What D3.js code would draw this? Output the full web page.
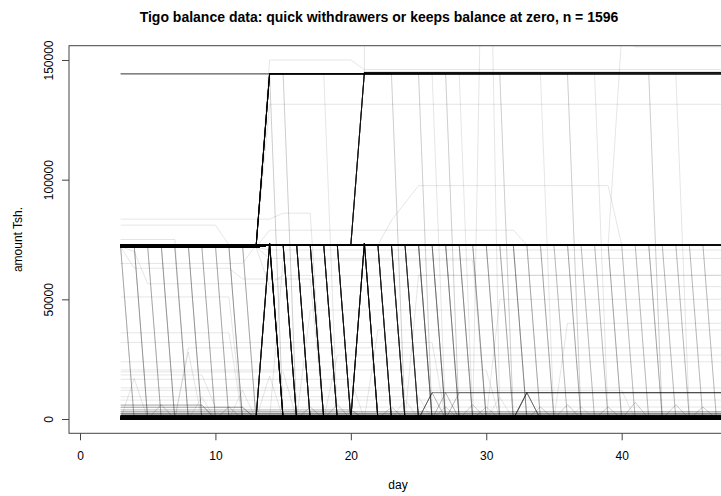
<!DOCTYPE html>
<html>
<head>
<meta charset="utf-8">
<script src="https://cdn.jsdelivr.net/npm/d3@7"></script>
<style>
  html, body { margin: 0; padding: 0; background: #fff; }
  svg text { font-family: "Liberation Sans", Arial, Helvetica, sans-serif; fill: #000; }
</style>
</head>
<body>
<svg id="chart" width="721" height="496"></svg>
<script>
// ---------------------------------------------------------------
// Data: daily Tigo balances (Tsh.) of customers, day 3 to day 48.
// Every trajectory is stored by its corner points [day, amount];
// "n" is how many customers share that exact trajectory.
// ---------------------------------------------------------------
const titleText = "Tigo balance data: quick withdrawers or keeps balance at zero, n = 1596";
const xTitle = "day";
const yTitle = "amount Tsh.";
const xTickValues = [0, 10, 20, 30, 40];
const yTickValues = [0, 50000, 100000, 150000];
const firstDay = 3;
const lastDay = 48;

// common balance levels
const preLow = 71800;     // balance held from day 3 (lower group)
const preHigh = 72700;    // balance held from day 3 (upper group)
const holdLevel = 72700;  // balance held from day 14 on
const peakLevel = 73500;  // one-day deposits
const bigLevel = 144200;  // large balances
const bigLevel2 = 144800; // large balances topped up on day 21

// balances that never move: [amount, customers]
const flatBalances = [
  [0, 820], [300, 140], [700, 90], [1100, 50], [1500, 25],
  [2200, 8], [3000, 5], [13000, 1], [7900, 1], [23900, 1]
];

// ~72k held from day 3, emptied on day k: [k, customers]
const earlyWithdrawals = [
  [4, 4], [5, 5], [6, 4], [7, 5], [8, 4], [9, 5], [10, 4], [11, 4], [12, 5], [13, 4]
];

// ~72.7k held from day 14, emptied on day k (0 = still held): [k, customers]
const lateWithdrawals = [
  [15, 10], [16, 30], [17, 28], [18, 28], [19, 26], [20, 26], [23, 24], [24, 22],
  [25, 18], [26, 10], [27, 8], [28, 7], [29, 6], [30, 5], [31, 5], [32, 4],
  [33, 6], [34, 4], [35, 4], [36, 3], [37, 4], [38, 3], [39, 3], [40, 4],
  [41, 3], [42, 3], [43, 4], [44, 3], [45, 3], [46, 3], [47, 3], [0, 45]
];

// one-day deposits of ~73.5k withdrawn the next day: [day, customers]
const quickDeposits = [[14, 30], [21, 30]];

// large balances emptied on day k: [k, customers]
const bigWithdrawals = [
  [15, 2], [16, 2], [19, 1], [24, 2], [26, 2], [27, 1], [28, 2], [29, 1],
  [32, 2], [35, 1], [37, 2], [39, 1], [43, 2], [45, 1]
];

// small one-day deposits: [day, amount, customers]
const smallSpikes = [
  [4, 17000, 1], [6, 6000, 2], [8, 28000, 1], [9, 9000, 1], [11, 5000, 2],
  [12, 12000, 1], [14, 18000, 1], [17, 5000, 2], [19, 6000, 2], [23, 5000, 2],
  [24, 8000, 1], [27, 5000, 2], [29, 6000, 2], [30, 5000, 2], [31, 9000, 1],
  [34, 5000, 2], [36, 6000, 2], [37, 5000, 1], [39, 5000, 2], [41, 7000, 2],
  [44, 6000, 2], [46, 5000, 2]
];

// other individual trajectories
const otherPaths = [
  { n: 10, pts: [[3, bigLevel], [48, bigLevel]] },
  { n: 22, pts: [[3, preLow], [13, preLow], [14, bigLevel], [48, bigLevel]] },
  { n: 25, pts: [[3, preLow], [13, preLow], [14, holdLevel], [20, holdLevel], [21, bigLevel2], [48, bigLevel2]] },
  { n: 1, pts: [[3, preLow], [13, preLow], [14, 150000], [20, 150000], [21, 146000], [48, 146000]] },
  { n: 1, pts: [[3, preLow], [13, preLow], [14, 131500], [48, 131500]] },
  { n: 1, pts: [[3, preHigh], [20, preHigh], [21, 145000], [22, 3000000], [48, 3000000]] },
  { n: 1, pts: [[3, holdLevel], [22, holdLevel], [23, 83000], [25, 97500], [39, 97500], [40, holdLevel], [48, holdLevel]] },
  { n: 1, pts: [[3, 0], [29, 0], [30, 300000], [31, 0], [48, 0]] },
  { n: 1, pts: [[3, holdLevel], [39, holdLevel], [40, 160000], [41, 155500], [48, 155500]] },
  { n: 1, pts: [[3, 83500], [14, 83500], [15, 86000], [17, 86000], [18, 0], [48, 0]] },
  { n: 1, pts: [[3, 81000], [10, 81000], [11, holdLevel], [48, holdLevel]] },
  { n: 1, pts: [[3, 75000], [7, 75000], [8, 0], [48, 0]] },
  { n: 1, pts: [[3, 72000], [4, 63000], [11, 63000], [12, 58500], [17, 58500], [18, 0], [48, 0]] },
  { n: 1, pts: [[3, 72000], [4, 70000], [5, 56500], [14, 56500], [15, 60000], [48, 60000]] },
  { n: 1, pts: [[3, 65000], [12, 65000], [13, holdLevel], [48, holdLevel]] },
  { n: 1, pts: [[3, 51000], [11, 51000], [12, 0], [48, 0]] },
  { n: 1, pts: [[3, 36000], [11, 36000], [12, 0], [48, 0]] },
  { n: 1, pts: [[3, 0], [7, 0], [8, 29700], [48, 29700]] },
  { n: 1, pts: [[3, 19700], [15, 19700], [16, 0], [48, 0]] },
  { n: 1, pts: [[3, 18400], [9, 18400], [10, 5000], [48, 5000]] },
  { n: 1, pts: [[3, 16600], [20, 16600], [21, 0], [48, 0]] },
  { n: 1, pts: [[3, 9300], [25, 9300], [26, 0], [48, 0]] },
  { n: 1, pts: [[3, 0], [16, 0], [17, 45500], [48, 45500]] },
  { n: 1, pts: [[3, 0], [21, 0], [22, 37200], [48, 37200]] },
  { n: 1, pts: [[3, 0], [18, 0], [19, 26700], [48, 26700]] },
  { n: 1, pts: [[3, 20500], [30, 20500], [31, 0], [48, 0]] },
  { n: 1, pts: [[3, 0], [14, 0], [15, 66400], [29, 66400], [30, 0], [48, 0]] },
  { n: 1, pts: [[3, preLow], [13, preLow], [14, 78900], [32, 78900], [33, holdLevel], [48, holdLevel]] },
  { n: 1, pts: [[3, preLow], [13, preLow], [14, 70600], [48, 70600]] },
  { n: 1, pts: [[3, preLow], [13, preLow], [14, 67100], [48, 67100]] },
  { n: 1, pts: [[3, preLow], [13, preLow], [14, 55300], [48, 55300]] },
  { n: 1, pts: [[3, 0], [24, 0], [25, 60100], [48, 60100]] },
  { n: 4, pts: [[3, 5800], [9, 5800], [10, 0], [48, 0]] },
  { n: 4, pts: [[3, 4900], [12, 4900], [13, 0], [48, 0]] },
  { n: 3, pts: [[3, 3800], [20, 3800], [21, 0], [48, 0]] },
  { n: 1, pts: [[3, 12000], [40, 12000], [41, 0], [48, 0]] },
  { n: 1, pts: [[3, 0], [35, 0], [36, 40000], [48, 40000]] },
  { n: 1, pts: [[3, 0], [30, 0], [31, 50000], [48, 50000]] },
  { n: 1, pts: [[3, 32000], [26, 32000], [27, 0], [48, 0]] },
  // ~11k deposits from day 25 on
  { n: 6, pts: [[3, 0], [25, 0], [26, 11000], [48, 11000]] },
  { n: 3, pts: [[3, 0], [25, 0], [26, 11000], [27, 0], [48, 0]] },
  { n: 3, pts: [[3, 0], [26, 0], [27, 11000], [28, 0], [48, 0]] },
  { n: 3, pts: [[3, 0], [27, 0], [28, 11000], [48, 11000]] },
  { n: 8, pts: [[3, 0], [32, 0], [33, 11000], [34, 0], [48, 0]] },
  { n: 4, pts: [[3, 0], [32, 0], [33, 11000], [48, 11000]] }
];

// ---------------------------------------------------------------
// Build the list of trajectories
// ---------------------------------------------------------------
const trajectories = [];
flatBalances.forEach(([v, n]) => trajectories.push({ n, pts: [[firstDay, v], [lastDay, v]] }));
earlyWithdrawals.forEach(([k, n], i) => {
  const lvl = i % 2 ? preHigh : preLow;
  trajectories.push({ n, pts: [[firstDay, lvl], [k - 1, lvl], [k, 0], [lastDay, 0]] });
});
lateWithdrawals.forEach(([k, n], i) => {
  const lvl = i % 2 ? preHigh : preLow;
  const pts = [[firstDay, lvl], [13, lvl], [14, holdLevel]];
  if (k === 0) pts.push([lastDay, holdLevel]);
  else { if (k - 1 > 14) pts.push([k - 1, holdLevel]); pts.push([k, 0], [lastDay, 0]); }
  trajectories.push({ n, pts });
});
quickDeposits.forEach(([d, n]) =>
  trajectories.push({ n, pts: [[firstDay, 0], [d - 1, 0], [d, peakLevel], [d + 1, 0], [lastDay, 0]] }));
bigWithdrawals.forEach(([k, n]) => {
  const pts = [[firstDay, preLow], [13, preLow], [14, bigLevel]];
  if (k - 1 > 14) pts.push([k - 1, bigLevel]);
  pts.push([k, 0], [lastDay, 0]);
  trajectories.push({ n, pts });
});
smallSpikes.forEach(([d, v, n]) =>
  trajectories.push({ n, pts: [[firstDay, 0], [d - 1, 0], [d, v], [d + 1, 0], [lastDay, 0]] }));
otherPaths.forEach(p => trajectories.push(p));

// one line per customer, drawn in a translucent black
const lines = trajectories.flatMap(t => d3.range(t.n).map(() => t.pts));

// ---------------------------------------------------------------
// Layout and scales
// ---------------------------------------------------------------
const plot = { left: 69, right: 727.3, top: 45.7, bottom: 433.3 };

const x = d3.scaleLinear().domain([-0.8125, 47.8]).range([plot.left, plot.right]);
const y = d3.scaleLinear().domain([-5973, 155973]).range([plot.bottom, plot.top]);

const svg = d3.select("#chart");

svg.append("defs").append("clipPath").attr("id", "plot-clip")
  .append("rect")
  .attr("x", plot.left).attr("y", plot.top)
  .attr("width", plot.right - plot.left).attr("height", plot.bottom - plot.top);

const line = d3.line().x(d => x(d[0])).y(d => y(d[1]));

svg.append("g")
  .attr("clip-path", "url(#plot-clip)")
  .selectAll("path")
  .data(lines)
  .join("path")
  .attr("d", line)
  .attr("fill", "none")
  .attr("stroke", "#000")
  .attr("stroke-opacity", 0.1)
  .attr("stroke-width", 1);

// frame
svg.append("rect")
  .attr("x", plot.left).attr("y", plot.top)
  .attr("width", plot.right - plot.left).attr("height", plot.bottom - plot.top)
  .attr("fill", "none").attr("stroke", "#444").attr("stroke-width", 1);

// axes
const xAxis = d3.axisBottom(x).tickValues(xTickValues).tickSize(7).tickPadding(11).tickFormat(d3.format("d"));
const gx = svg.append("g").attr("transform", `translate(0,${plot.bottom})`).call(xAxis);
gx.select(".domain").remove();
gx.selectAll(".tick line").attr("stroke", "#444");
gx.selectAll(".tick text").attr("font-size", 12).attr("font-family", null);

const yAxis = d3.axisLeft(y).tickValues(yTickValues).tickSize(7).tickFormat(d3.format("d"));
const gy = svg.append("g").attr("transform", `translate(${plot.left},0)`).call(yAxis);
gy.select(".domain").remove();
gy.selectAll(".tick line").attr("stroke", "#444");
gy.selectAll(".tick text")
  .attr("font-size", 12).attr("font-family", null)
  .attr("x", null).attr("dy", null)
  .attr("text-anchor", "middle")
  .attr("transform", "translate(-16,0) rotate(-90)");

// titles
svg.append("text")
  .attr("x", 379).attr("y", 22)
  .attr("text-anchor", "middle")
  .attr("font-size", 14).attr("font-weight", "bold")
  .text(titleText);

svg.append("text")
  .attr("x", 398).attr("y", 489)
  .attr("text-anchor", "middle")
  .attr("font-size", 12)
  .text(xTitle);

svg.append("text")
  .attr("transform", `translate(22,${(plot.top + plot.bottom) / 2}) rotate(-90)`)
  .attr("text-anchor", "middle")
  .attr("font-size", 12)
  .text(yTitle);
</script>
</body>
</html>
